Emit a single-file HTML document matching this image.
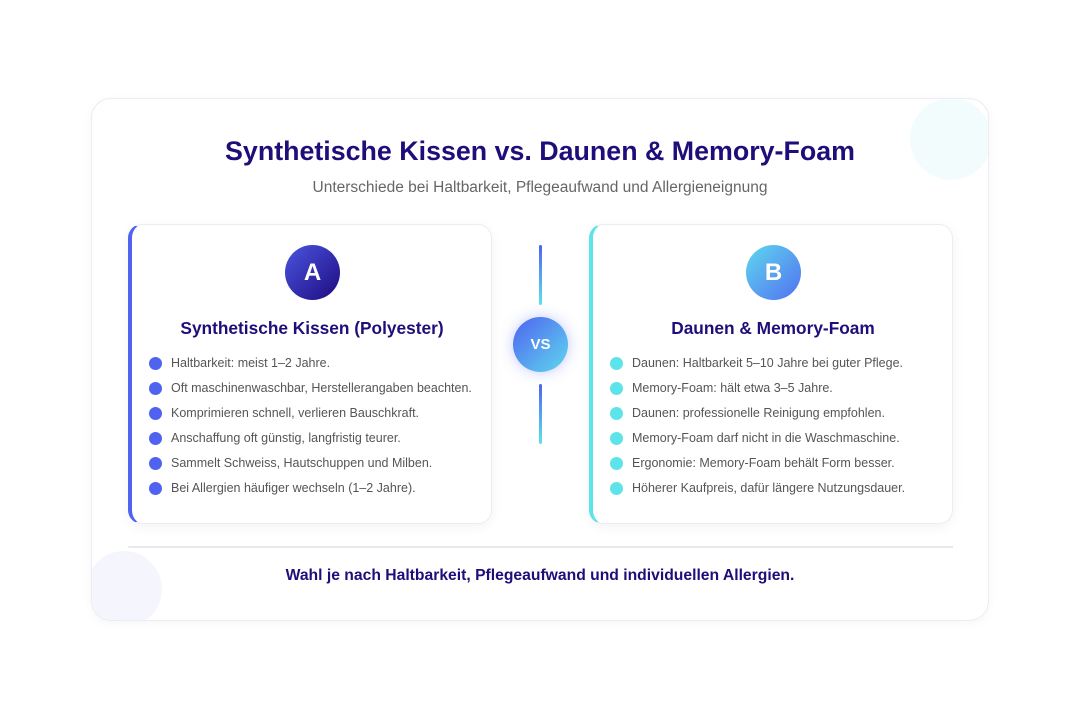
<!DOCTYPE html>
<html><head><meta charset="utf-8"><style>
*{margin:0;padding:0;box-sizing:border-box}
body{width:1080px;height:720px;background:#fff;font-family:"Liberation Sans","DejaVu Sans",sans-serif;position:relative;overflow:hidden}
.outer{position:absolute;left:91px;top:98px;width:898px;height:523px;border:1.5px solid #ececf2;border-radius:20px;background:#fff;overflow:hidden;box-shadow:0 2px 10px rgba(0,0,0,0.04)}
.deco1{position:absolute;left:818px;top:-1px;width:82px;height:82px;border-radius:50%;background:#f3fcfd}
.deco2{position:absolute;left:-6px;top:452px;width:76px;height:76px;border-radius:50%;background:#f5f5fd}
.title{position:absolute;left:0;width:1080px;top:136px;text-align:center;font-size:26.8px;font-weight:bold;color:#1f0d7a}
.sub{position:absolute;left:0;width:1080px;top:179px;text-align:center;font-size:15.5px;color:#666}
.card{position:absolute;top:224px;width:364px;height:300px;background:#fff;border:1.5px solid #ececf2;border-radius:14px;box-shadow:0 3px 12px rgba(0,0,0,0.05)}
.card.l{left:128px;border-left:4px solid #4f63f0}
.card.r{left:589px;border-left:4px solid #5de3ea}
.badge{position:absolute;left:153px;top:20px;width:55px;height:55px;border-radius:50%;color:#fff;font-weight:bold;font-size:24px;text-align:center;line-height:55px}
.l .badge{background:linear-gradient(135deg,#4a56e0,#1e0a80)}
.r .badge{background:linear-gradient(135deg,#5ed8ee,#5270f0)}
.ct{position:absolute;left:0;width:360px;top:93px;text-align:center;font-size:17.3px;font-weight:bold;color:#1f0d7a}
ul{position:absolute;left:17px;top:129px;list-style:none}
li{height:25px;font-size:12.5px;color:#555;position:relative;padding-left:22px;line-height:18px;white-space:nowrap}
li:before{content:"";position:absolute;left:0;top:3px;width:13px;height:13px;border-radius:50%}
.l li:before{background:#4f63f0}
.r li:before{background:#5de3ea}
.vl{position:absolute;left:539px;width:3px;height:60px;border-radius:2px;background:linear-gradient(#4f63f0,#5de3ea)}
.vs{position:absolute;left:513px;top:317px;width:55px;height:55px;border-radius:50%;background:linear-gradient(135deg,#4f63f0,#5ed8ee);color:#fff;font-weight:bold;font-size:15px;text-align:center;line-height:55px;box-shadow:0 0 14px rgba(80,100,240,0.35)}
.div{position:absolute;left:128px;top:546px;width:825px;height:1.5px;background:#e8e8ee}
.foot{position:absolute;left:0;width:1080px;top:567px;text-align:center;font-size:15.7px;font-weight:bold;color:#1f0d7a}
</style></head><body>
<div class="outer"><div class="deco1"></div><div class="deco2"></div></div>
<div class="title">Synthetische Kissen vs. Daunen &amp; Memory-Foam</div>
<div class="sub">Unterschiede bei Haltbarkeit, Pflegeaufwand und Allergieneignung</div>
<div class="card l"><div class="badge">A</div><div class="ct">Synthetische Kissen (Polyester)</div>
<ul><li>Haltbarkeit: meist 1–2 Jahre.</li><li>Oft maschinenwaschbar, Herstellerangaben beachten.</li><li>Komprimieren schnell, verlieren Bauschkraft.</li><li>Anschaffung oft günstig, langfristig teurer.</li><li>Sammelt Schweiss, Hautschuppen und Milben.</li><li>Bei Allergien häufiger wechseln (1–2 Jahre).</li></ul></div>
<div class="card r"><div class="badge">B</div><div class="ct">Daunen &amp; Memory-Foam</div>
<ul><li>Daunen: Haltbarkeit 5–10 Jahre bei guter Pflege.</li><li>Memory-Foam: hält etwa 3–5 Jahre.</li><li>Daunen: professionelle Reinigung empfohlen.</li><li>Memory-Foam darf nicht in die Waschmaschine.</li><li>Ergonomie: Memory-Foam behält Form besser.</li><li>Höherer Kaufpreis, dafür längere Nutzungsdauer.</li></ul></div>
<div class="vl" style="top:245px"></div>
<div class="vs">VS</div>
<div class="vl" style="top:384px"></div>
<div class="div"></div>
<div class="foot">Wahl je nach Haltbarkeit, Pflegeaufwand und individuellen Allergien.</div>
</body></html>
